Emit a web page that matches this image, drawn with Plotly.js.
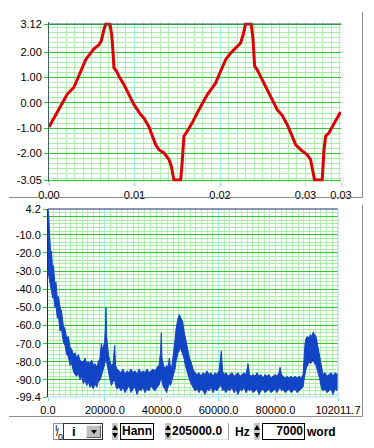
<!DOCTYPE html>
<html>
<head>
<meta charset="utf-8">
<script src="https://cdn.plot.ly/plotly-3.0.1.min.js"></script>
<style>
  html, body { margin:0; padding:0; background:#ffffff; }
  #wrap { position:relative; width:374px; height:448px; overflow:hidden; }
  #chart { position:absolute; left:0; top:0; width:374px; height:448px; }
  .ctl { position:absolute; font-family:"Liberation Sans",Arial,sans-serif; font-weight:bold; font-size:12px; color:#000; line-height:15px; white-space:nowrap; }
  .box { position:absolute; background:#fff; box-sizing:border-box; }
  .arrows { position:absolute; width:6px; height:17px; background:#c8c8c8; }
  .up { position:absolute; left:0; top:2px; width:0; height:0; border-left:3px solid transparent; border-right:3px solid transparent; border-bottom:5px solid #000; }
  .dn { position:absolute; left:0; top:10px; width:0; height:0; border-left:3px solid transparent; border-right:3px solid transparent; border-top:5px solid #000; }
</style>
</head>
<body>
<div id="wrap">
  <div id="chart"></div>

  <!-- ring control -->
  <div class="box" style="left:53px;top:423px;width:11px;height:17px;border:1px solid #909090;"></div>
  <div class="ctl" style="left:55px;top:421px;font-size:9px;font-weight:normal;">I</div>
  <div class="ctl" style="left:56px;top:425px;font-size:10px;font-weight:normal;">/</div>
  <div class="ctl" style="left:58px;top:430px;font-size:9px;font-weight:normal;">0</div>
  <div class="box" style="left:63px;top:423px;width:40px;height:17px;border:1px solid #303030;"></div>
  <div class="ctl" style="left:72px;top:424px;font-size:13px;">i</div>
  <div class="box" style="left:86px;top:425px;width:15px;height:13px;background:#c0c0c0;border:1px solid;border-color:#f0f0f0 #606060 #606060 #f0f0f0;"></div>
  <div style="position:absolute;left:91px;top:430px;width:0;height:0;border-left:3px solid transparent;border-right:3px solid transparent;border-top:4px solid #000;"></div>

  <!-- window -->
  <div class="arrows" style="left:112px;top:423px;"><div class="up"></div><div class="dn"></div></div>
  <div class="box" style="left:120px;top:423px;width:34px;height:17px;border:1px solid #000;"></div>
  <div class="ctl" style="left:122px;top:424px;">Hann</div>

  <!-- sample rate -->
  <div class="arrows" style="left:165px;top:423px;"><div class="up"></div><div class="dn"></div></div>
  <div class="box" style="left:171px;top:423px;width:58px;height:17px;border-right:1px solid #a0a0a0;border-bottom:1px solid #e0e0e0;"></div>
  <div class="ctl" style="left:172px;top:424px;">205000.0</div>
  <div class="ctl" style="left:235px;top:425px;">Hz</div>

  <!-- samples -->
  <div class="arrows" style="left:254px;top:423px;"><div class="up"></div><div class="dn"></div></div>
  <div class="box" style="left:262px;top:423px;width:43px;height:17px;border:1px solid #000;"></div>
  <div class="ctl" style="left:262px;top:424px;width:41px;text-align:right;">7000</div>
  <div class="ctl" style="left:307px;top:425px;">word</div>
</div>

<script>
// ---------- top chart: time signal ----------
var timeSec = [0, 0.00058, 0.00117, 0.00175, 0.00214, 0.00292, 0.00331, 0.0039, 0.00429, 0.00487,
  0.00526, 0.00585, 0.00612, 0.00643, 0.00663, 0.00713, 0.00733, 0.00748, 0.0076, 0.00791,
  0.00818, 0.00877, 0.00935, 0.00994, 0.01072, 0.0111, 0.01169, 0.01208, 0.01247, 0.01286,
  0.01344, 0.01403, 0.0143, 0.01461, 0.0154, 0.01558, 0.01578, 0.01617, 0.01675, 0.01733,
  0.01792, 0.01851, 0.01909, 0.01949, 0.02007, 0.02066, 0.02124, 0.02183, 0.02241, 0.02271,
  0.02299, 0.02365, 0.02385, 0.02405, 0.02435, 0.02493, 0.02552, 0.0261, 0.02669, 0.02727,
  0.02786, 0.02844, 0.02884, 0.02942, 0.0302, 0.03059, 0.03106, 0.03195, 0.03215, 0.03235,
  0.03273, 0.03332, 0.0341];
var signal = [-0.95, -0.6, -0.2, 0.13, 0.35, 0.62, 0.92, 1.38, 1.71, 1.97,
  2.14, 2.30, 2.46, 2.90, 3.12, 3.12, 2.70, 2.04, 1.38, 1.25,
  1.05, 0.72, 0.33, -0.07, -0.46, -0.6, -0.95, -1.32, -1.65, -1.85,
  -1.98, -2.24, -2.50, -3.05, -3.05, -2.31, -1.32, -1.12, -0.79, -0.40,
  -0.04, 0.33, 0.59, 0.79, 1.25, 1.71, 1.97, 2.17, 2.37, 2.70,
  3.12, 3.12, 2.57, 1.45, 1.31, 0.92, 0.52, 0.13, -0.27, -0.49,
  -0.86, -1.32, -1.65, -1.85, -2.05, -2.24, -3.05, -3.05, -1.91, -1.32,
  -1.19, -0.83, -0.36];
var timeTickVals = [0, 0.01, 0.02, 0.03, 0.03415];
var timeTickText = ['0.00', '0.01', '0.02', '0.03', '0.03'];
var ampTickVals = [3.12, 2, 1, 0, -1, -2, -3.05];
var ampTickText = ['3.12', '2.00', '1.00', '0.00', '-1.00', '-2.00', '-3.05'];

// ---------- bottom chart: spectrum (upper / lower edge of the noisy band, dB) ----------
var freqHz = [0, 250, 460, 700, 950, 1230, 1650, 1930, 2460, 2810,
  3270, 3690, 4220, 4750, 5380, 5980, 6580, 7140, 7740, 8340,
  8900, 9500, 10100, 10660, 11260, 11860, 12420, 13020, 13620, 14180,
  14780, 15370, 15940, 16530, 17130, 17700, 18290, 18750, 19100, 19450,
  19880, 20160, 20400, 20650, 20930, 21280, 21810, 22340, 22870, 23470,
  23750, 24270, 24980, 25680, 26390, 27090, 27790, 28500, 29200, 29900,
  30610, 31310, 32010, 32720, 33420, 34120, 34830, 35530, 36230, 36940,
  37640, 38350, 39050, 39580, 39860, 40100, 40630, 41160, 41690, 42220,
  42670, 43100, 43620, 44150, 44680, 45030, 45380, 45730, 46190, 46540,
  46960, 47390, 47840, 48300, 48790, 49250, 49780, 50310, 51010, 51710,
  52420, 53120, 53830, 54530, 55230, 55940, 56640, 57340, 58050, 58750,
  59450, 60160, 60970, 61390, 61920, 62620, 63320, 64030, 64730, 65430,
  66140, 66840, 67550, 68250, 68950, 69660, 70360, 70890, 71420, 72120,
  72820, 73530, 74230, 74930, 75640, 76340, 77040, 77750, 78450, 79160,
  79860, 80560, 81270, 81620, 82150, 82670, 83380, 84080, 84790, 85490,
  86190, 86900, 87600, 88300, 89010, 89710, 90060, 90410, 90770, 91290,
  91820, 92350, 92870, 93330, 93750, 94280, 94630, 95090, 95510, 95860,
  96280, 96740, 97450, 98150, 98850, 99560, 100260, 100960, 101660, 102011.7];
var upperDb = [4.2, 1.0, -6.4, -12, -21, -19, -30, -27, -38, -36,
  -45, -44, -50, -52, -60, -62, -67, -66, -72, -73,
  -76, -75, -78, -76, -79, -80, -80, -78, -81, -80,
  -81, -79, -82, -81, -83, -80, -78, -70, -74, -71,
  -70, -62, -50, -66, -72, -76, -80, -82, -81, -71,
  -82, -84, -85, -86, -84, -87, -85, -86, -84, -86,
  -85, -87, -84, -86, -85, -86, -84, -86, -85, -84,
  -85, -83, -82, -75, -64, -78, -82, -84, -82, -83,
  -78, -83, -82, -76, -68, -62, -58, -56, -54, -55,
  -56, -58, -63, -67, -70, -75, -78, -80, -84, -86,
  -87, -86, -88, -86, -87, -85, -87, -86, -88, -86,
  -87, -85, -74, -85, -87, -86, -88, -87, -86, -88,
  -87, -86, -88, -87, -86, -87, -81, -87, -88, -87,
  -88, -86, -88, -87, -89, -87, -88, -87, -89, -88,
  -87, -88, -86, -83, -87, -88, -89, -88, -89, -88,
  -89, -88, -89, -88, -89, -87, -78, -70, -67, -66,
  -67, -65, -66, -63.5, -65, -66, -69, -73, -77, -81,
  -85, -87, -86, -88, -87, -86, -88, -86, -87, -86];
var lowerDb = [-30, -33, -34, -37, -39, -41, -45, -43, -50, -49,
  -56, -55, -63, -62, -69, -71, -76, -77, -82, -81,
  -85, -87, -88, -86, -90, -88, -92, -90, -93, -91,
  -94, -93, -95, -92, -94, -91, -90, -88, -86, -84,
  -83, -80, -78, -80, -84, -87, -90, -93, -91, -90,
  -93, -95, -94, -96, -94, -97, -95, -93, -97, -95,
  -94, -98, -95, -96, -94, -97, -95, -96, -93, -95,
  -96, -94, -93, -90, -88, -91, -94, -95, -97, -94,
  -92, -93, -90, -88, -84, -80, -77, -75, -74, -72,
  -74, -76, -78, -82, -85, -88, -90, -92, -94, -96,
  -95, -97, -95, -96, -98, -95, -96, -94, -97, -95,
  -96, -94, -93, -96, -95, -97, -95, -96, -94, -97,
  -95, -98, -95, -96, -94, -97, -95, -96, -95, -97,
  -96, -95, -98, -96, -95, -97, -96, -95, -97, -96,
  -95, -97, -95, -94, -96, -95, -97, -96, -95, -97,
  -96, -95, -97, -96, -95, -94, -90, -86, -84, -82,
  -80, -81, -80, -79, -81, -82, -84, -86, -89, -92,
  -95, -96, -95, -97, -96, -95, -98, -95, -96, -94];
var freqTickVals = [0, 20000, 40000, 60000, 80000, 102011.7];
var freqTickText = ['0.0', '20000.0', '40000.0', '60000.0', '80000.0', '102011.7'];
var dbTickVals = [4.2, 0, -10, -20, -30, -40, -50, -60, -70, -80, -90, -99.4];
var dbTickText = ['4.2', '', '-10.0', '-20.0', '-30.0', '-40.0', '-50.0', '-60.0', '-70.0', '-80.0', '-90.0', '-99.4'];

var W = 374, H = 448;
function px(x) { return x / W; }
function py(y) { return (H - y) / H; }

var tickFont = { family: '"Liberation Sans",Arial,sans-serif', size: 11, color: '#000' };
var BLUE = '#1244c6';

// top chart extended slightly so the thick line at the clip levels is not cut
var topMin = -3.05, topMax = 3.12, ext = 0.06;
var topPxPer = (180 - 24) / (topMax - topMin);
var topDomTop = 24 - ext * topPxPer, topDomBot = 180 + ext * topPxPer;

var traces = [
  { x: timeSec, y: signal, type: 'scatter', mode: 'lines', xaxis: 'x', yaxis: 'y',
    line: { color: '#dc0000', width: 3 }, hoverinfo: 'skip' },
  { x: freqHz, y: lowerDb, type: 'scatter', mode: 'lines', xaxis: 'x2', yaxis: 'y2',
    line: { color: BLUE, width: 1 }, hoverinfo: 'skip' },
  { x: freqHz, y: upperDb, type: 'scatter', mode: 'lines', xaxis: 'x2', yaxis: 'y2',
    fill: 'tonexty', fillcolor: BLUE, line: { color: BLUE, width: 1 }, hoverinfo: 'skip' }
];

var layout = {
  width: W, height: H,
  margin: { l: 0, r: 0, t: 0, b: 0, pad: 0 },
  paper_bgcolor: '#ffffff', plot_bgcolor: '#ffffff',
  showlegend: false,
  font: tickFont,
  xaxis: {
    domain: [px(49), px(341)], anchor: 'y', range: [0, 0.03415],
    tickmode: 'array', tickvals: timeTickVals, ticktext: timeTickText,
    ticks: 'outside', ticklen: 3, tickcolor: '#7fe0e0', tickfont: tickFont,
    showgrid: true, gridcolor: '#9cf0ec', gridwidth: 1, zeroline: false, showline: false,
    minor: { dtick: 0.001, tick0: 0, showgrid: true, gridcolor: '#b4f0b4', gridwidth: 1, ticks: '' },
    fixedrange: true
  },
  yaxis: {
    domain: [py(topDomBot), py(topDomTop)], anchor: 'x', range: [topMin - ext, topMax + ext],
    tickmode: 'array', tickvals: ampTickVals, ticktext: ampTickText,
    ticks: 'outside', ticklen: 4, tickcolor: '#2ec82e', tickfont: tickFont,
    showgrid: true, gridcolor: '#30c830', gridwidth: 1, zeroline: false,
    showline: true, linecolor: '#3c6464', linewidth: 1,
    minor: { dtick: 0.2, tick0: 0, showgrid: true, gridcolor: '#a6eea6', gridwidth: 1, ticks: '' },
    fixedrange: true
  },
  xaxis2: {
    domain: [px(48), px(338)], anchor: 'y2', range: [0, 102011.7],
    tickmode: 'array', tickvals: freqTickVals, ticktext: freqTickText,
    ticks: 'outside', ticklen: 3, tickcolor: '#7fe0e0', tickfont: tickFont,
    showgrid: true, gridcolor: '#9cf0ec', gridwidth: 1, zeroline: false, showline: false,
    minor: { dtick: 2000, tick0: 0, showgrid: true, gridcolor: '#b4f0b4', gridwidth: 1, ticks: '' },
    fixedrange: true
  },
  yaxis2: {
    domain: [py(397), py(209)], anchor: 'x2', range: [-99.4, 4.2],
    tickmode: 'array', tickvals: dbTickVals, ticktext: dbTickText,
    ticks: 'outside', ticklen: 4, tickcolor: '#2ec82e', tickfont: tickFont,
    showgrid: true, gridcolor: '#30c830', gridwidth: 1, zeroline: false,
    showline: true, linecolor: '#1c2c6c', linewidth: 1,
    minor: { dtick: 2, tick0: 0, showgrid: true, gridcolor: '#a6eea6', gridwidth: 1, ticks: '' },
    fixedrange: true
  },
  shapes: [
    { type: 'line', xref: 'x domain', yref: 'y', x0: 0, x1: 1, y0: topMax, y1: topMax, line: { color: '#3c6464', width: 1 } },
    { type: 'line', xref: 'x2 domain', yref: 'y2 domain', x0: 0, x1: 1, y0: 1, y1: 1, line: { color: '#1c2c6c', width: 1 } },
    { type: 'line', xref: 'x2 domain', yref: 'y2 domain', x0: 1, x1: 1, y0: 0, y1: 1, line: { color: '#a8c8ff', width: 1 } },
    { type: 'line', xref: 'x2 domain', yref: 'y2 domain', x0: 0, x1: 1, y0: 0, y1: 0, line: { color: '#a8dcff', width: 1 } },
    { type: 'line', xref: 'paper', yref: 'paper', x0: px(362.5), x1: px(362.5), y0: py(12), y1: py(197.5), line: { color: '#8c8c8c', width: 1 } },
    { type: 'line', xref: 'paper', yref: 'paper', x0: px(9), x1: px(362.5), y0: py(197.5), y1: py(197.5), line: { color: '#8c8c8c', width: 1 } },
    { type: 'line', xref: 'paper', yref: 'paper', x0: px(362.5), x1: px(362.5), y0: py(205), y1: py(416.5), line: { color: '#8c8c8c', width: 1 } },
    { type: 'line', xref: 'paper', yref: 'paper', x0: px(9), x1: px(362.5), y0: py(416.5), y1: py(416.5), line: { color: '#8c8c8c', width: 1 } }
  ]
};

Plotly.newPlot('chart', traces, layout, { staticPlot: true, displayModeBar: false });
</script>
</body>
</html>
